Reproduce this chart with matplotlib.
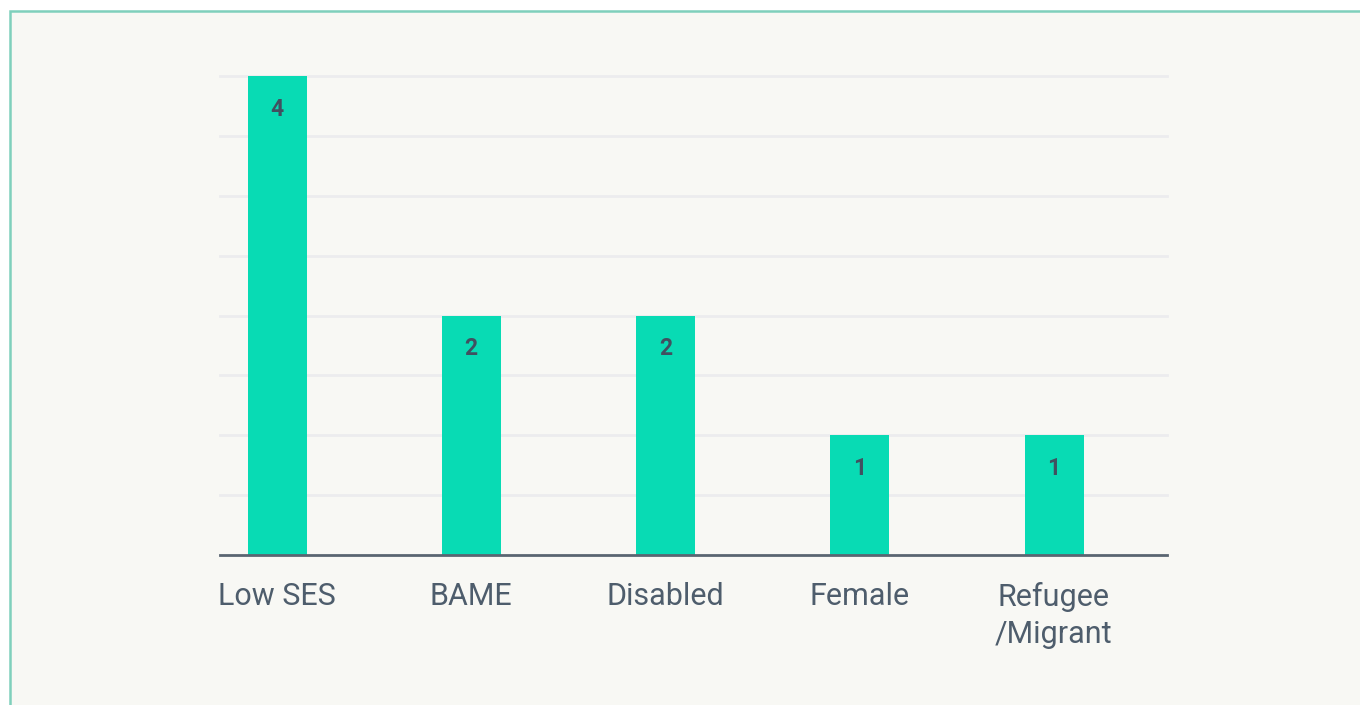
import matplotlib
matplotlib.use("Agg")
import matplotlib.pyplot as plt
from matplotlib.patches import Rectangle
import numpy as np

categories = ["Low SES", "BAME", "Disabled", "Female", "Refugee\n/Migrant"]
values = [4, 2, 2, 1, 1]
value_labels = ["4", "2", "2", "1", "1"]

W, H = 1360, 705
fig = plt.figure(figsize=(W / 100, H / 100), dpi=100, facecolor="white")

# panel background with teal border
panel = Rectangle((10 / W, -0.05), 1.1, (H - 11) / H + 0.05, transform=fig.transFigure,
                  facecolor="#f8f8f4", edgecolor="#7fd0bc", linewidth=1.8, zorder=-10)
fig.patches.append(panel)

ax = fig.add_axes([220 / W, 150 / H, (1167 - 220) / W, (629 - 150) / H])
ax.set_zorder(1)
ax.set_facecolor("none")

x = np.arange(len(categories))
spacing = (1054 - 277) / 4
ax.bar(x, values, width=59 / spacing, color="#08dbb4", zorder=3)

ax.set_xlim(-(277 - 220) / spacing, 4 + (1167 - 1054) / spacing)
ax.set_ylim(0, 4)
ax.set_yticks(np.arange(0.5, 4.01, 0.5))
ax.yaxis.grid(True, color="#ececee", linewidth=2, zorder=0)
for gl in ax.get_ygridlines():
    gl.set_clip_on(False)
ax.tick_params(axis="y", left=False, labelleft=False)
ax.tick_params(axis="x", bottom=False, pad=16)
ax.set_xticks(x)
ax.set_xticklabels(categories, fontsize=22, color="#4e5d6c", family="Roboto",
                   linespacing=1.35, va="top")

for s in ["top", "right", "left"]:
    ax.spines[s].set_visible(False)
ax.spines["bottom"].set_color("#5a6571")
ax.spines["bottom"].set_linewidth(2)
ax.spines["bottom"].set_zorder(4)

for xi, v, lab in zip(x, values, value_labels):
    ax.annotate(lab, (xi, v), xytext=(0, -33), textcoords="offset pixels",
                ha="center", va="center", fontsize=16.5, fontweight="bold",
                color="#415060", family="Roboto", zorder=5)

fig.savefig("out.png", dpi=100, facecolor="white")
